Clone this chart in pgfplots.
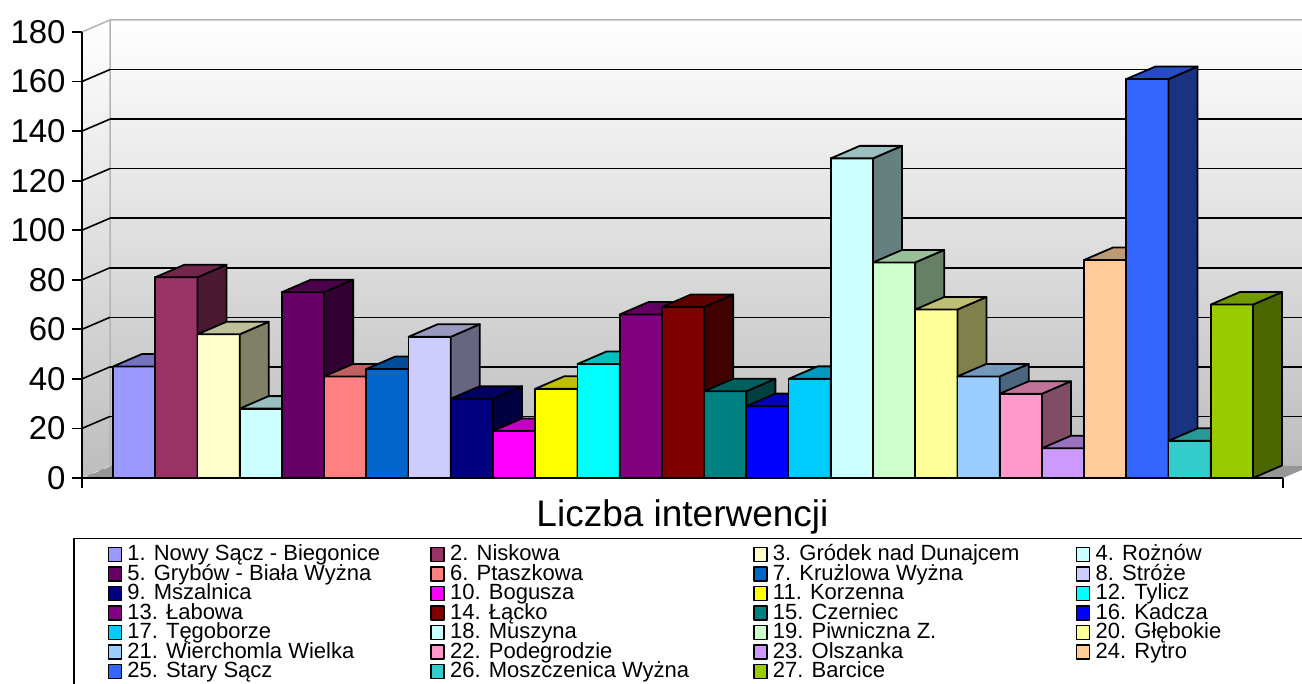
\documentclass[border=0pt]{standalone}
\usepackage{fontspec}
\setmainfont{Liberation Sans}
\usepackage{pgfplots}
\pgfplotsset{compat=1.18}

\newcommand\mkc[2]{\definecolor{c#1}{HTML}{#2}\colorlet{top#1}{c#1!75!black}\colorlet{side#1}{c#1!50!black}}
\mkc{1}{9999FF}\mkc{2}{993366}\mkc{3}{FFFFCC}\mkc{4}{CCFFFF}\mkc{5}{660066}
\mkc{6}{FF8080}\mkc{7}{0066CC}\mkc{8}{CCCCFF}\mkc{9}{000080}\mkc{10}{FF00FF}
\mkc{11}{FFFF00}\mkc{12}{00FFFF}\mkc{13}{800080}\mkc{14}{800000}\mkc{15}{008080}
\mkc{16}{0000FF}\mkc{17}{00CCFF}\mkc{18}{CCFFFF}\mkc{19}{CCFFCC}\mkc{20}{FFFF99}
\mkc{21}{99CCFF}\mkc{22}{FF99CC}\mkc{23}{CC99FF}\mkc{24}{FFCC99}\mkc{25}{3366FF}
\mkc{26}{33CCCC}\mkc{27}{99CC00}
\definecolor{bgbot}{HTML}{BDBDBD}
\definecolor{floorc}{HTML}{969696}
\definecolor{edgec}{HTML}{B4B4B4}

% 3D top and side faces of a column, drawn at the data point (bar top centre)
\def\ptperunit{1.238889}
\pgfdeclareplotmark{bar3d}{%
  \pgfmathsetmacro\barH{\barval*\ptperunit}%
  \pgfmathtruncatemacro\bid{round(\barid)}%
  \pgfpathmoveto{\pgfpoint{10.55pt}{0pt}}%
  \pgfpathlineto{\pgfpoint{25.05pt}{6.25pt}}%
  \pgfpathlineto{\pgfpoint{25.05pt}{6.25pt-\barH pt}}%
  \pgfpathlineto{\pgfpoint{10.55pt}{-\barH pt}}%
  \pgfpathclose
  \pgfsetfillcolor{side\bid}%
  \pgfusepath{fill,stroke}%
  \pgfpathmoveto{\pgfpoint{-10.55pt}{0pt}}%
  \pgfpathlineto{\pgfpoint{10.55pt}{0pt}}%
  \pgfpathlineto{\pgfpoint{25.05pt}{6.25pt}}%
  \pgfpathlineto{\pgfpoint{3.95pt}{6.25pt}}%
  \pgfpathclose
  \pgfsetfillcolor{top\bid}%
  \pgfusepath{fill,stroke}%
}

\pgfplotsset{
  bar3d/.style={ybar, bar width=21.1pt, bar shift=0pt, fill=#1, draw=black,
    line width=0.9pt, line join=round, mark=bar3d,
    mark options={draw=black, solid, line width=0.9pt, line join=round},
    visualization depends on={rawy \as \barval},
    visualization depends on={rawx \as \barid}},
}
\newcommand\legent[1]{\addlegendentry{\makebox[153.3pt][l]{\hspace*{2.2pt}#1}}}

\begin{document}
\begin{tikzpicture}
\useasboundingbox (0,0) rectangle (651pt,342pt);
\begin{scope}[x=0.5pt,y=0.5pt]
  \shade[top color=white, bottom color=bgbot] (110,218) rectangle (1340,664);
  \shade[top color=white, bottom color=bgbot] (82,206)--(110,218)--(110,664)--(82,652)--cycle;
  \fill[floorc] (82,206)--(1283,206)--(1311,218)--(110,218)--cycle;
  \draw[edgec, line width=0.75pt] (82,652)--(110,664)--(1340,664) (110,664)--(110,218);
  \draw[white!70!gray, line width=0.5pt, dashed] (82,206)--(110,218);
  \foreach \v in {20,40,...,160}{\draw[black,line width=0.8pt] (82,{206+\v*2.4778})--(110,{218+\v*2.4778});}
\end{scope}
\begin{axis}[
  at={(41pt,103pt)}, anchor=south west, scale only axis,
  width=600.5pt, height=223pt,
  xmin=-0.235, xmax=28.21, ymin=0, ymax=180,
  clip=false, clip marker paths=true,
  axis x line*=bottom, axis y line*=left,
  axis line style={black, line width=0.85pt},
  tick style={black, line width=0.85pt},
  tick align=outside, major tick length=5pt,
  xtick={-0.235,28.21}, xticklabels={,},
  ytick={0,20,...,180},
  /pgf/number format/assume math mode=true,
  yticklabel style={font=\fontsize{16.5}{16.5}\selectfont, inner sep=1pt, xshift=-2pt},
  extra y ticks={20,40,...,160}, extra y tick labels={},
  extra y tick style={ymajorgrids=true, major tick length=0pt},
  major grid style={black, line width=0.8pt, xshift=14pt, yshift=6pt},
  xlabel={Liczba interwencji},
  xlabel style={font=\fontsize{18.5}{18.5}\selectfont, at={(axis description cs:0.5,0)}, anchor=base, yshift=-24.5pt},
  legend image code/.code={\draw[#1, line width=0.65pt] (0.35pt,-3.5pt) rectangle (6.85pt,3.5pt); \path (0pt,0pt) (7.2pt,0pt);},
  legend columns=4,
  legend cell align=left,
  legend style={at={(axis description cs:0,0)}, anchor=north west, xshift=-4.5pt, yshift=-30pt,
    draw=black, line width=0.75pt, inner xsep=16.5pt, inner ysep=3pt,
    font=\fontsize{11}{11}\selectfont, column sep=0pt, row sep=0pt,
    nodes={inner sep=0pt, text height=7.9pt, text depth=1.85pt}},
]
\addplot[bar3d=c1] coordinates {(1,45)}; \legent{1. Nowy Sącz - Biegonice}
\addplot[bar3d=c2] coordinates {(2,81)}; \legent{2. Niskowa}
\addplot[bar3d=c3] coordinates {(3,58)}; \legent{3. Gródek nad Dunajcem}
\addplot[bar3d=c4] coordinates {(4,28)}; \legent{4. Rożnów}
\addplot[bar3d=c5] coordinates {(5,75)}; \legent{5. Grybów - Biała Wyżna}
\addplot[bar3d=c6] coordinates {(6,41)}; \legent{6. Ptaszkowa}
\addplot[bar3d=c7] coordinates {(7,44)}; \legent{7. Krużlowa Wyżna}
\addplot[bar3d=c8] coordinates {(8,57)}; \legent{8. Stróże}
\addplot[bar3d=c9] coordinates {(9,32)}; \legent{9. Mszalnica}
\addplot[bar3d=c10] coordinates {(10,19)}; \legent{10. Bogusza}
\addplot[bar3d=c11] coordinates {(11,36)}; \legent{11. Korzenna}
\addplot[bar3d=c12] coordinates {(12,46)}; \legent{12. Tylicz}
\addplot[bar3d=c13] coordinates {(13,66)}; \legent{13. Łabowa}
\addplot[bar3d=c14] coordinates {(14,69)}; \legent{14. Łącko}
\addplot[bar3d=c15] coordinates {(15,35)}; \legent{15. Czerniec}
\addplot[bar3d=c16] coordinates {(16,29)}; \legent{16. Kadcza}
\addplot[bar3d=c17] coordinates {(17,40)}; \legent{17. Tęgoborze}
\addplot[bar3d=c18] coordinates {(18,129)}; \legent{18. Muszyna}
\addplot[bar3d=c19] coordinates {(19,87)}; \legent{19. Piwniczna Z.}
\addplot[bar3d=c20] coordinates {(20,68)}; \legent{20. Głębokie}
\addplot[bar3d=c21] coordinates {(21,41)}; \legent{21. Wierchomla Wielka}
\addplot[bar3d=c22] coordinates {(22,34)}; \legent{22. Podegrodzie}
\addplot[bar3d=c23] coordinates {(23,12)}; \legent{23. Olszanka}
\addplot[bar3d=c24] coordinates {(24,88)}; \legent{24. Rytro}
\addplot[bar3d=c25] coordinates {(25,161)}; \legent{25. Stary Sącz}
\addplot[bar3d=c26] coordinates {(26,15)}; \legent{26. Moszczenica Wyżna}
\addplot[bar3d=c27] coordinates {(27,70)}; \legent{27. Barcice}
\end{axis}
\end{tikzpicture}
\end{document}
